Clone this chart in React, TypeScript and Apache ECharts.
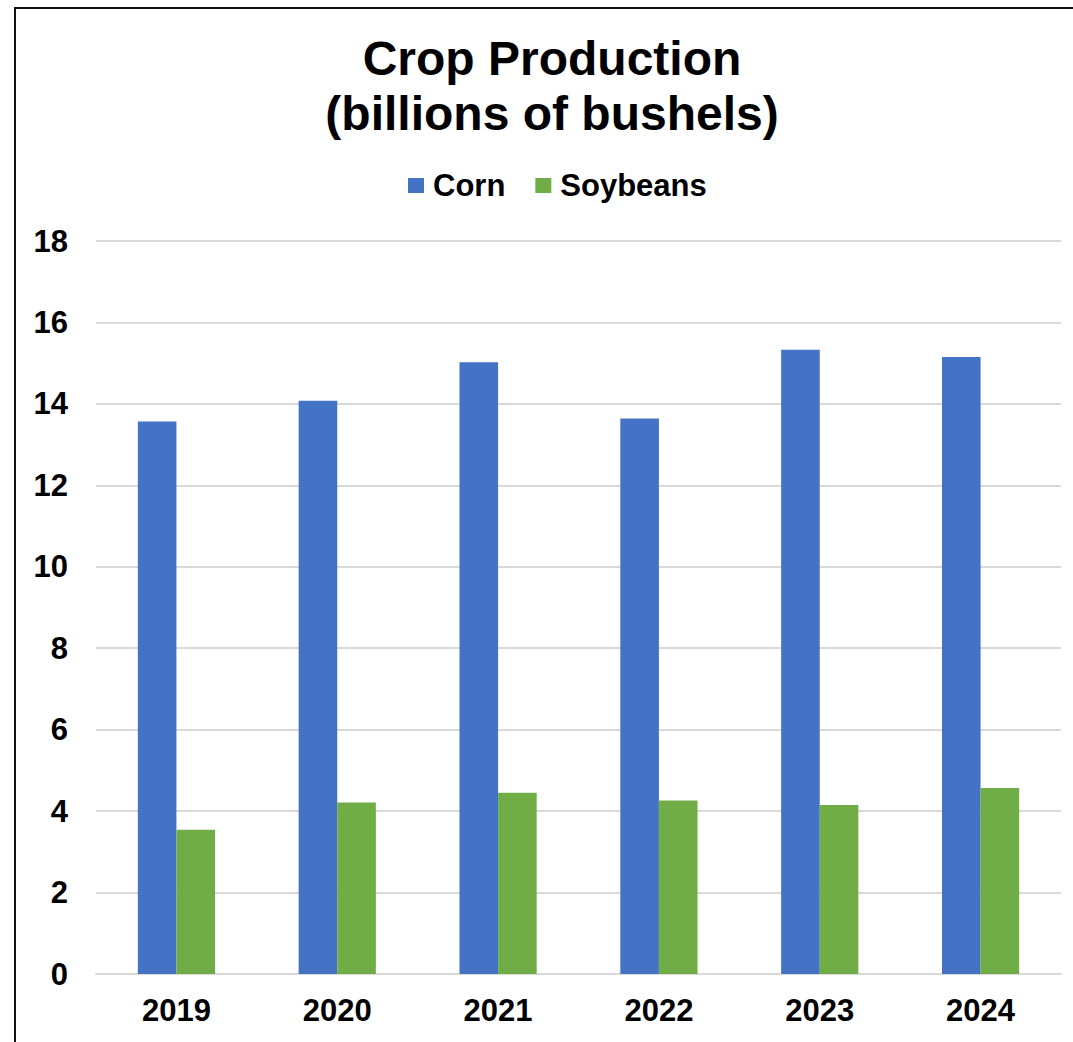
import React, { useEffect, useRef } from "react";
import * as echarts from "echarts";

const years = ["2019", "2020", "2021", "2022", "2023", "2024"];
const corn = [13.57, 14.08, 15.02, 13.64, 15.33, 15.15];
const soybeans = [3.54, 4.21, 4.45, 4.26, 4.15, 4.57];
const yTicks = { min: 0, max: 18, interval: 2 };

const FONT = "'Liberation Sans', Arial, sans-serif";

export default function App() {
  const ref = useRef<HTMLDivElement>(null);
  useEffect(() => {
    if (!ref.current) return;
    const chart = echarts.init(ref.current, undefined, { renderer: "svg" });
    chart.setOption({
      animation: false,
      backgroundColor: "#ffffff",
      title: {
        text: "Crop Production\n(billions of bushels)",
        left: 552,
        top: 31,
        padding: 0,
        textAlign: "center",
        textStyle: {
          fontFamily: FONT,
          fontWeight: "bold",
          fontSize: 48,
          lineHeight: 55,
          color: "#000",
        },
      },
      legend: {
        left: 408,
        top: 170,
        padding: 0,
        itemWidth: 16,
        itemHeight: 15,
        itemGap: 30,
        icon: "rect",
        textStyle: {
          fontFamily: FONT,
          fontWeight: "bold",
          fontSize: 31,
          color: "#000",
          padding: [0, 0, 0, 4],
        },
        data: ["Corn", "Soybeans"],
      },
      graphic: [
        {
          type: "rect",
          shape: { x: 15, y: 8, width: 2000, height: 2000 },
          style: { fill: "none", stroke: "#111", lineWidth: 2 },
          silent: true,
        },
      ],
      grid: { left: 96, right: 12, top: 241, bottom: 68 },
      xAxis: {
        type: "category",
        data: years,
        axisLine: { show: true, lineStyle: { color: "#d9d9d9", width: 2 } },
        axisTick: { show: false },
        axisLabel: {
          fontFamily: FONT,
          fontWeight: "bold",
          fontSize: 31,
          color: "#000",
          margin: 21,
        },
      },
      yAxis: {
        type: "value",
        min: yTicks.min,
        max: yTicks.max,
        interval: yTicks.interval,
        axisLine: { show: false },
        axisTick: { show: false },
        splitLine: { lineStyle: { color: "#d9d9d9", width: 2 } },
        axisLabel: {
          fontFamily: FONT,
          fontWeight: "bold",
          fontSize: 31,
          color: "#000",
          margin: 28,
        },
      },
      series: [
        {
          name: "Corn",
          type: "bar",
          data: corn,
          barWidth: "24%",
          barGap: "0%",
          itemStyle: { color: "#4472C4" },
        },
        {
          name: "Soybeans",
          type: "bar",
          data: soybeans,
          barWidth: "24%",
          itemStyle: { color: "#70AD47" },
        },
      ],
    });
    return () => chart.dispose();
  }, []);
  return (
    <div
      ref={ref}
      style={{ position: "fixed", left: 0, top: 0, width: 1073, height: 1042 }}
    />
  );
}
